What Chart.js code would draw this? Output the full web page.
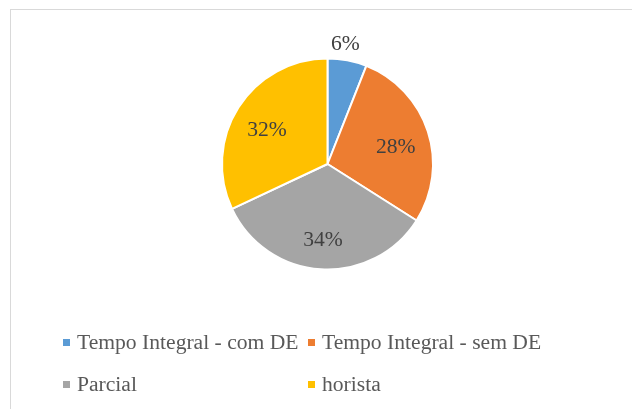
<!DOCTYPE html>
<html>
<head>
<meta charset="utf-8">
<script src="https://cdn.jsdelivr.net/npm/chart.js@4/dist/chart.umd.min.js"></script>
<style>
    html, body { margin: 0; padding: 0; background: #fff; }
    body { width: 632px; height: 409px; position: relative; overflow: hidden; font-family: "Liberation Serif", "Times New Roman", Times, serif; }
    .frame { position: absolute; left: 10px; top: 9px; width: 700px; height: 500px; border-top: 1.5px solid #d9d9d9; border-left: 1.5px solid #d9d9d9; }
    #chart { position: absolute; left: 0; top: 0; }
    .legend { position: absolute; left: 63px; top: 321px; display: grid; grid-template-columns: 245px 245px; grid-auto-rows: 42px; }
    .legend-item { display: flex; align-items: center; font-size: 21.6px; color: #595959; white-space: nowrap; }
    .legend-item span.box { width: 7px; height: 7px; margin-right: 7px; flex: none; }
</style>
</head>
<body>
<div class="frame"></div>
<canvas id="chart" width="632" height="409"></canvas>
<div class="legend" id="legend"></div>
<script>
const categories = ["Tempo Integral - com DE", "Tempo Integral - sem DE", "Parcial", "horista"];
const shares = [6, 28, 34, 32];
const colors = ["#5B9BD5", "#ED7D31", "#A5A5A5", "#FFC000"];

// percent labels: inside the slice, or just outside when the slice is thin
const pctLabels = {
    id: "pctLabels",
    afterDatasetsDraw(chart) {
        const ctx = chart.ctx;
        const total = shares.reduce((a, b) => a + b, 0);
        ctx.save();
        ctx.font = "21.6px 'Liberation Serif', 'Times New Roman', serif";
        ctx.fillStyle = "#404040";
        ctx.textAlign = "center";
        ctx.textBaseline = "middle";
        chart.getDatasetMeta(0).data.forEach((arc, i) => {
            const { x, y, startAngle, endAngle, outerRadius } = arc.getProps(["x", "y", "startAngle", "endAngle", "outerRadius"], true);
            const mid = (startAngle + endAngle) / 2;
            const share = shares[i] / total;
            const outside = share < 0.1;
            const r = outside ? outerRadius + 21.5 : outerRadius * 0.68;
            ctx.fillText(Math.round(share * 100) + "%", x + Math.cos(mid) * r - (outside ? 6 : 0), y + Math.sin(mid) * r + 5);
        });
        ctx.restore();
    }
};

new Chart(document.getElementById("chart"), {
    type: "pie",
    data: {
        labels: categories,
        datasets: [{ data: shares, backgroundColor: colors, borderColor: "#ffffff", borderWidth: 2 }]
    },
    options: {
        responsive: false,
        animation: false,
        radius: 105.5,
        layout: { padding: { left: 222, right: 199, top: 58, bottom: 139 } },
        plugins: { legend: { display: false }, tooltip: { enabled: false } }
    },
    plugins: [pctLabels]
});

// legend in a two-column grid, like the original
const legend = document.getElementById("legend");
categories.forEach((name, i) => {
    const item = document.createElement("div");
    item.className = "legend-item";
    item.innerHTML = `<span class="box" style="background:${colors[i]}"></span>${name}`;
    legend.appendChild(item);
});
</script>
</body>
</html>
